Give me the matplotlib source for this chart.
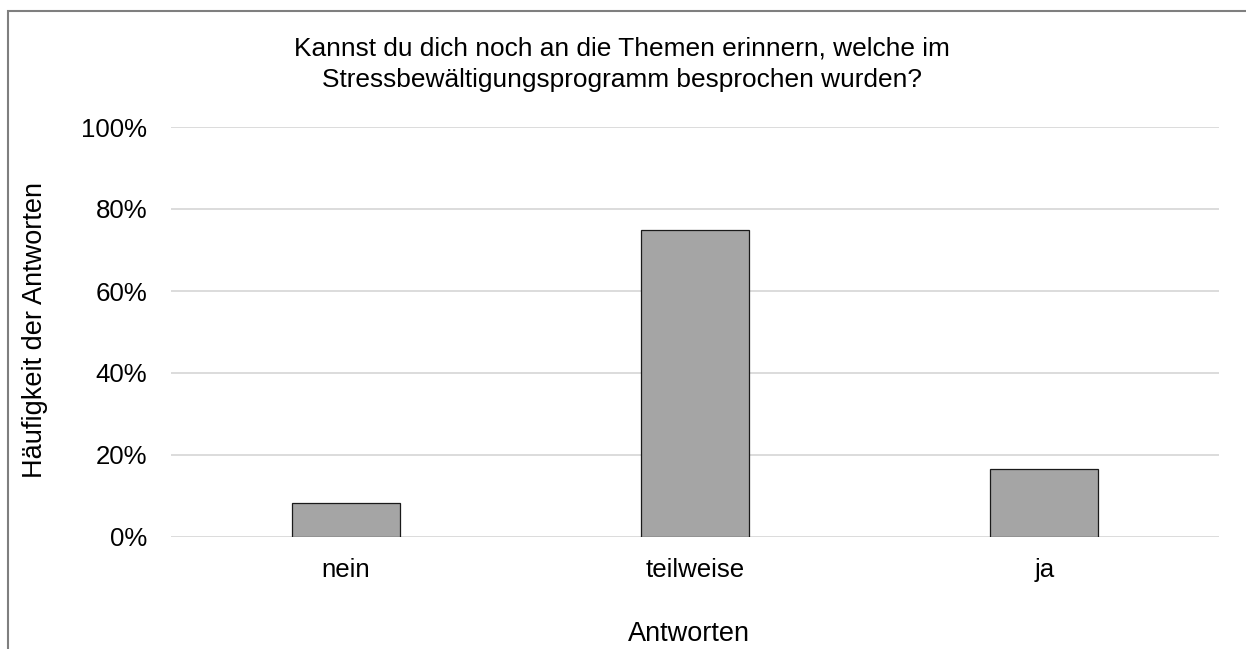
import matplotlib.pyplot as plt
from matplotlib.patches import Rectangle
from matplotlib.ticker import PercentFormatter

plt.rcParams['font.family'] = ['Liberation Sans', 'DejaVu Sans']

# Antwortverteilung (Anteile in %)
antworten = ['nein', 'teilweise', 'ja']
anteile = [8.33, 75.0, 16.67]
y_ticks = [0, 20, 40, 60, 80, 100]

fig = plt.figure(figsize=(12.46, 6.49), dpi=100)
ax = fig.add_axes([171 / 1246, 1 - 537 / 649, (1219 - 171) / 1246, (537 - 127) / 649])

ax.bar(antworten, anteile, width=0.31, color='#A5A5A5', edgecolor='#1a1a1a',
       linewidth=0.9, zorder=3)

ax.set_xlim(-0.5, 2.5)
ax.set_ylim(0, 100)
ax.set_yticks(y_ticks)
ax.yaxis.set_major_formatter(PercentFormatter(decimals=0))
ax.grid(axis='y', color='#D9D9D9', linewidth=1.3, zorder=0)
for s in ax.spines.values():
    s.set_visible(False)
ax.tick_params(axis='both', length=0, labelsize=18.6)
ax.tick_params(axis='y', pad=17)
ax.tick_params(axis='x', pad=15)

fig.text(622 / 1246, 1 - 64 / 649,
         'Kannst du dich noch an die Themen erinnern, welche im\n'
         'Stressbewältigungsprogramm besprochen wurden?',
         ha='center', va='center', fontsize=18.9, linespacing=1.4)
fig.text(689 / 1246, 1 - 634 / 649, 'Antworten', ha='center', va='center', fontsize=19.5)
fig.text(35 / 1246, 1 - 330 / 649, 'Häufigkeit der Antworten', ha='center', va='center',
         rotation=90, fontsize=19.5)

# Rahmen um das Diagramm
fig.add_artist(Rectangle((8 / 1246, -0.5), 1.5, 1.5 - 11 / 649,
                         transform=fig.transFigure, fill=False,
                         edgecolor='#7f7f7f', linewidth=1.5))

fig.savefig('out.png', dpi=100)
